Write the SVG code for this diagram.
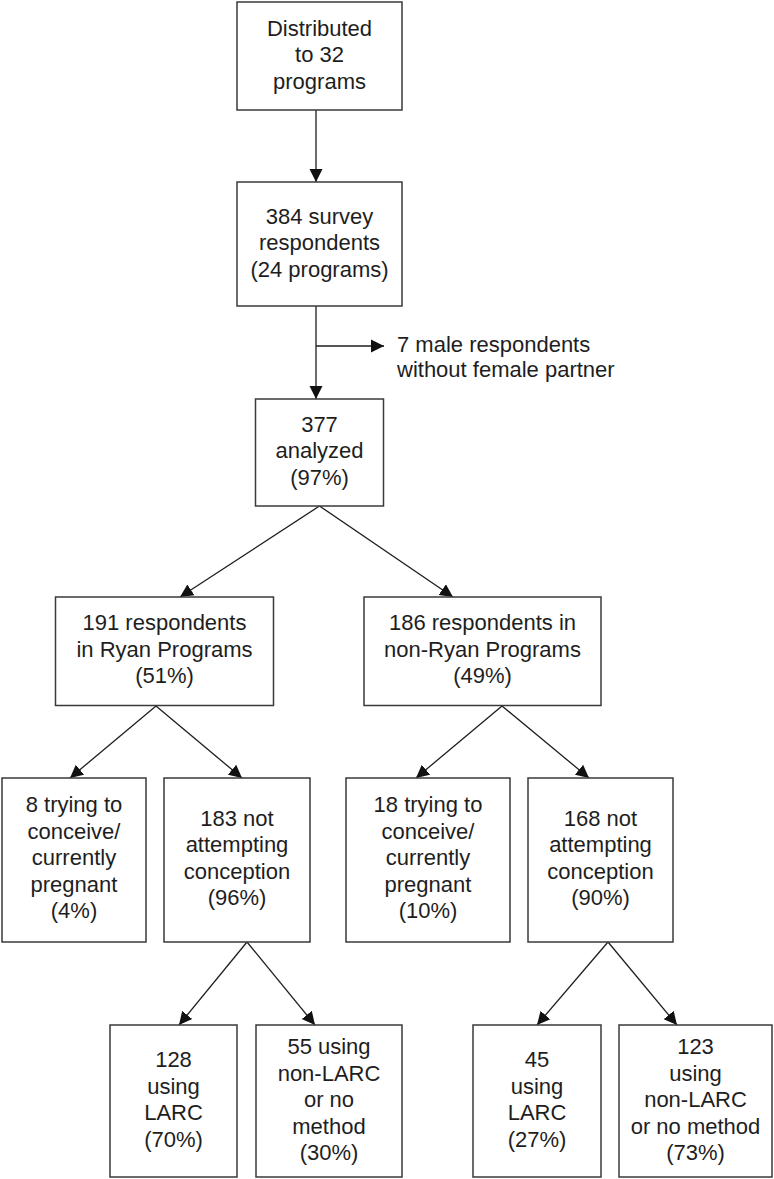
<svg xmlns="http://www.w3.org/2000/svg" width="774" height="1179" viewBox="0 0 774 1179">
<style>
rect.box{fill:#ffffff;stroke:#3a3a3a;stroke-width:1.5}
text{font-family:"Liberation Sans",Arial,Helvetica,sans-serif;font-size:22px;fill:#1e1e1e;text-anchor:middle}
text.side{text-anchor:start}
.conn line{stroke:#1e1e1e;stroke-width:1.3;fill:none;marker-end:url(#arr)}
</style>
<defs>
<marker id="arr" markerUnits="userSpaceOnUse" markerWidth="14" markerHeight="14" viewBox="0 0 14 14" refX="13" refY="7" orient="auto">
<path d="M0,0.5 L13,7 L0,13.5 z" fill="#111111"/>
</marker>
</defs>
<rect width="774" height="1179" fill="#ffffff"/>
<g id="connectors" class="conn">
<line x1="316" y1="110" x2="316" y2="182"/>
<line x1="316" y1="306" x2="316" y2="399"/>
<line x1="316" y1="346" x2="384" y2="346"/>
<line x1="319.5" y1="506" x2="180" y2="597"/>
<line x1="319.5" y1="506" x2="453" y2="597"/>
<line x1="156" y1="706" x2="70" y2="778"/>
<line x1="156" y1="706" x2="242" y2="778"/>
<line x1="502" y1="706" x2="416" y2="778"/>
<line x1="502" y1="706" x2="589" y2="778"/>
<line x1="247" y1="942" x2="179" y2="1025"/>
<line x1="247" y1="942" x2="315" y2="1025"/>
<line x1="608" y1="942" x2="537" y2="1025"/>
<line x1="608" y1="942" x2="677" y2="1025"/>
</g>
<g id="distributed">
<rect class="box" x="237" y="2" width="165" height="108"/>
<text x="319.5" y="35.5">Distributed</text>
<text x="319.5" y="62">to 32</text>
<text x="319.5" y="88.5">programs</text>
</g>
<g id="respondents">
<rect class="box" x="237" y="182" width="165" height="124"/>
<text x="319.5" y="223.5">384 survey</text>
<text x="319.5" y="250">respondents</text>
<text x="319.5" y="276.5">(24 programs)</text>
</g>
<g id="excluded">
<text class="side" x="397" y="352">7 male respondents</text>
<text class="side" x="397" y="377">without female partner</text>
</g>
<g id="analyzed">
<rect class="box" x="255.5" y="399" width="128" height="107"/>
<text x="319.5" y="431.5">377</text>
<text x="319.5" y="458">analyzed</text>
<text x="319.5" y="484.5">(97%)</text>
</g>
<g id="ryan">
<rect class="box" x="55.5" y="597" width="218" height="108.5"/>
<text x="164.5" y="630">191 respondents</text>
<text x="164.5" y="656.5">in Ryan Programs</text>
<text x="164.5" y="683">(51%)</text>
</g>
<g id="nonryan">
<rect class="box" x="364" y="597" width="237" height="108.5"/>
<text x="482.5" y="630">186 respondents in</text>
<text x="482.5" y="656.5">non-Ryan Programs</text>
<text x="482.5" y="683">(49%)</text>
</g>
<g id="ryan-trying">
<rect class="box" x="2" y="778" width="144" height="164"/>
<text x="74" y="812">8 trying to</text>
<text x="74" y="838.5">conceive/</text>
<text x="74" y="865">currently</text>
<text x="74" y="891.5">pregnant</text>
<text x="74" y="918">(4%)</text>
</g>
<g id="ryan-not">
<rect class="box" x="164" y="778" width="146" height="164"/>
<text x="237" y="825.5">183 not</text>
<text x="237" y="852">attempting</text>
<text x="237" y="878.5">conception</text>
<text x="237" y="905">(96%)</text>
</g>
<g id="nonryan-trying">
<rect class="box" x="346" y="778" width="164" height="164"/>
<text x="428" y="812">18 trying to</text>
<text x="428" y="838.5">conceive/</text>
<text x="428" y="865">currently</text>
<text x="428" y="891.5">pregnant</text>
<text x="428" y="918">(10%)</text>
</g>
<g id="nonryan-not">
<rect class="box" x="528" y="778" width="145" height="164"/>
<text x="600.5" y="825.5">168 not</text>
<text x="600.5" y="852">attempting</text>
<text x="600.5" y="878.5">conception</text>
<text x="600.5" y="905">(90%)</text>
</g>
<g id="ryan-larc">
<rect class="box" x="110" y="1025" width="127" height="152"/>
<text x="173.5" y="1067">128</text>
<text x="173.5" y="1093.5">using</text>
<text x="173.5" y="1120">LARC</text>
<text x="173.5" y="1146.5">(70%)</text>
</g>
<g id="ryan-nonlarc">
<rect class="box" x="256" y="1025" width="146" height="152"/>
<text x="329" y="1054">55 using</text>
<text x="329" y="1080.5">non-LARC</text>
<text x="329" y="1107">or no</text>
<text x="329" y="1133.5">method</text>
<text x="329" y="1160">(30%)</text>
</g>
<g id="nonryan-larc">
<rect class="box" x="473" y="1025" width="128" height="152"/>
<text x="537" y="1067">45</text>
<text x="537" y="1093.5">using</text>
<text x="537" y="1120">LARC</text>
<text x="537" y="1146.5">(27%)</text>
</g>
<g id="nonryan-nonlarc">
<rect class="box" x="619" y="1025" width="153" height="152"/>
<text x="695.5" y="1054">123</text>
<text x="695.5" y="1080.5">using</text>
<text x="695.5" y="1107">non-LARC</text>
<text x="695.5" y="1133.5">or no method</text>
<text x="695.5" y="1160">(73%)</text>
</g>
</svg>
